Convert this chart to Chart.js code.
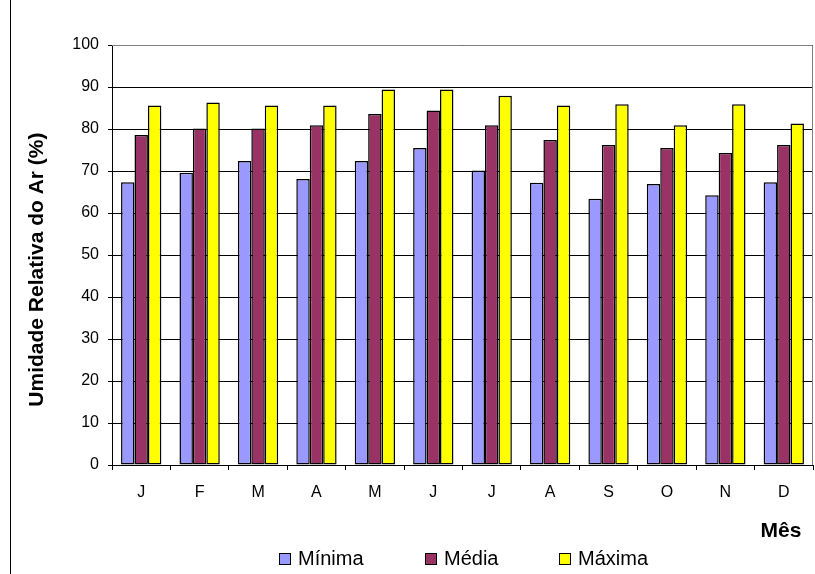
<!DOCTYPE html>
<html>
<head>
<meta charset="utf-8">
<script src="https://cdn.jsdelivr.net/npm/chart.js@4/dist/chart.umd.min.js"></script>
<style>
  html, body { margin: 0; padding: 0; background: #fff; }
  #wrap { position: absolute; left: 0; top: 0; width: 815px; height: 574px; }
  .legend-item { position: absolute; top: 545px; font: 20px Arial, "Liberation Sans", sans-serif; color: #000; line-height: 26px; white-space: nowrap; }
  .legend-box { display: inline-block; width: 10px; height: 10px; border: 1px solid #000; margin-right: 7px; vertical-align: 0px; }
</style>
</head>
<body>
<div id="wrap"><canvas id="chart" width="815" height="574"></canvas></div>
<div id="legend"></div>
<script>
const MONTHS = ['J', 'F', 'M', 'A', 'M', 'J', 'J', 'A', 'S', 'O', 'N', 'D'];
const MINIMA = [67.3, 69.6, 72.4, 68.1, 72.4, 75.5, 70.1, 67.2, 63.4, 66.9, 64.2, 67.3];
const MEDIA = [78.6, 80.1, 80.1, 80.9, 83.6, 84.4, 80.9, 77.4, 76.2, 75.5, 74.3, 76.2];
const MAXIMA = [85.6, 86.3, 85.6, 85.6, 89.4, 89.4, 87.9, 85.6, 85.9, 80.9, 85.9, 81.3];
const Y_TICKS = [0, 10, 20, 30, 40, 50, 60, 70, 80, 90, 100];

const FONT = 'Arial, "Liberation Sans", sans-serif';
const COLORS = ['#9999FF', '#993366', '#FFFF00'];
const LEGEND_X = [279, 425, 559];

// frame: left border of the chart box, grey border round the plot
const framePlugin = {
  id: 'frame',
  afterDraw(chart) {
    const c = chart.ctx;
    const a = chart.chartArea;
    c.save();
    c.strokeStyle = '#808080';
    c.lineWidth = 1;
    c.beginPath();
    c.moveTo(a.left, a.top + 0.5);
    c.lineTo(a.right - 0.5, a.top + 0.5);
    c.lineTo(a.right - 0.5, a.bottom);
    c.stroke();
    c.strokeStyle = '#000';
    c.beginPath();
    c.moveTo(10.5, 0);
    c.lineTo(10.5, chart.height);
    c.stroke();
    c.restore();
  }
};

const bar = (label, data, color) => ({
  label, data,
  backgroundColor: color,
  borderColor: '#000',
  borderWidth: 1.5,
  borderSkipped: false,
  categoryPercentage: 0.69,
  barPercentage: 1.0,
});

const chart = new Chart(document.getElementById('chart'), {
  type: 'bar',
  data: {
    labels: MONTHS,
    datasets: [
      bar('Mínima', MINIMA, COLORS[0]),
      bar('Média', MEDIA, COLORS[1]),
      bar('Máxima', MAXIMA, COLORS[2]),
    ],
  },
  options: {
    responsive: false,
    animation: false,
    layout: { padding: { left: 10, top: 45, right: 2, bottom: 0 } },
    plugins: {
      tooltip: { enabled: false },
      legend: { display: false },
    },
    scales: {
      x: {
        afterFit(scale) { scale.height = 109; },
        grid: { offset: true, drawOnChartArea: false, drawTicks: true, tickLength: 5, color: '#000' },
        border: { color: '#000', width: 1 },
        ticks: { color: '#000', font: { family: FONT, size: 16 }, padding: 13 },
        title: {
          display: true,
          text: 'Mês\u00A0\u00A0',
          align: 'end',
          color: '#000',
          font: { family: FONT, size: 21, weight: 'bold' },
          padding: { top: 0, bottom: 30 },
        },
      },
      y: {
        min: 0,
        max: 100,
        afterBuildTicks(scale) { scale.ticks = Y_TICKS.map(v => ({ value: v })); },
        afterFit(scale) { scale.width = 102; },
        grid: { color: '#000', lineWidth: 1, tickLength: 4 },
        border: { color: '#000', width: 1 },
        ticks: { color: '#000', font: { family: FONT, size: 16 }, padding: 9 },
        title: {
          display: true,
          // trailing spaces push the visible title a little lower, as in the original
          text: 'Umidade Relativa do Ar (%)\u00A0\u00A0\u00A0\u00A0\u00A0',
          color: '#000',
          font: { family: FONT, size: 21, weight: 'bold' },
          padding: { top: 15, bottom: 0 },
        },
      },
    },
  },
  plugins: [framePlugin],
});

// legend as html, spaced like the original
const legendEl = document.getElementById('legend');
chart.data.datasets.forEach((ds, i) => {
  const item = document.createElement('div');
  item.className = 'legend-item';
  item.style.left = LEGEND_X[i] + 'px';
  item.innerHTML = `<span class="legend-box" style="background:${COLORS[i]}"></span>${ds.label}`;
  legendEl.appendChild(item);
});
</script>
</body>
</html>
